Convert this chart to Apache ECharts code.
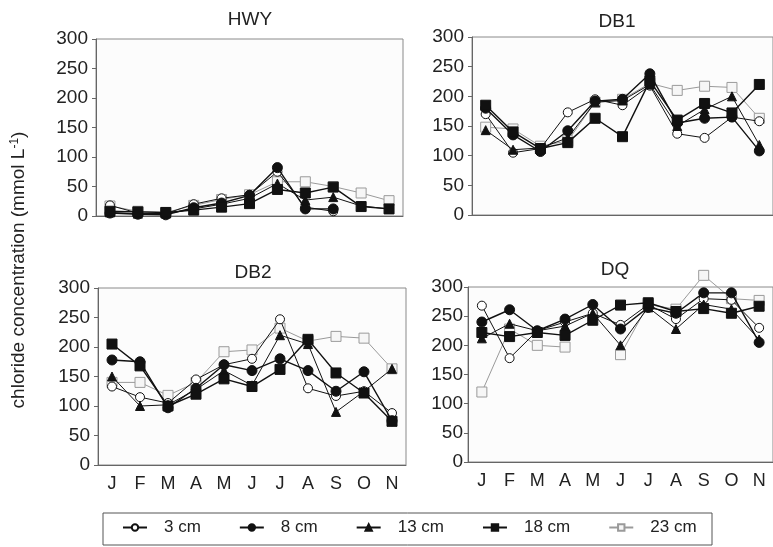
<!DOCTYPE html>
<html>
<head>
<meta charset="utf-8">
<script src="https://cdn.jsdelivr.net/npm/echarts@6/dist/echarts.min.js"></script>
<style>
  html, body { margin: 0; padding: 0; background: #fff; }
  #main { width: 773px; height: 547px; }
</style>
</head>
<body>
<div id="main"></div>
<script>
var months = ['J', 'F', 'M', 'A', 'M', 'J', 'J', 'A', 'S', 'O', 'N'];
var depths = ['3 cm', '8 cm', '13 cm', '18 cm', '23 cm'];
var yTicks = [0, 300, 50];

// HWY
var hwy3 = [18, 5, 4, 20, 30, 36, 75, 15, 8, null, null];
var hwy8 = [5, 3, 2, 14, 22, 35, 82, 12, 12, null, null];
var hwy13 = [6, 4, 4, 12, 20, 30, 55, 27, 32, 17, 12];
var hwy18 = [8, 7, 6, 10, 15, 21, 45, 39, 49, 16, 12];
var hwy23 = [17, 8, 6, 18, 28, 36, 58, 58, 50, 39, 26];

// DB1
var db1_3 = [170, 105, 112, 173, 195, 185, 218, 137, 130, 165, 158];
var db1_8 = [180, 135, 107, 142, 192, 195, 238, 155, 163, 165, 108];
var db1_13 = [143, 110, 113, 130, 190, 193, 220, 150, 178, 200, 118];
var db1_18 = [185, 140, 112, 122, 163, 132, 226, 160, 188, 172, 220];
var db1_23 = [148, 145, 116, 125, 190, 195, 222, 210, 217, 215, 163];

// DB2
var db2_3 = [133, 115, 105, 145, 170, 180, 247, 130, 117, 125, 88];
var db2_8 = [178, 175, 97, 130, 170, 160, 180, 160, 125, 158, 75];
var db2_13 = [150, 100, 102, 128, 160, 135, 220, 205, 90, 125, 163];
var db2_18 = [205, 168, 100, 120, 146, 133, 162, 213, 156, 122, 74];
var db2_23 = [140, 140, 118, 140, 192, 195, 232, 210, 218, 215, 163];

// DQ
var dq3 = [268, 178, 225, 240, 255, 235, 270, 245, 280, 278, 230];
var dq8 = [240, 261, 225, 245, 270, 228, 265, 255, 290, 290, 205];
var dq13 = [212, 237, 225, 233, 255, 200, 265, 228, 270, 262, 210];
var dq18 = [222, 215, 222, 217, 243, 269, 273, 258, 263, 255, 267];
var dq23 = [120, 228, 200, 197, null, 184, 270, 262, 320, 280, 277];

var panels = [
    { title: 'HWY', left: 96, top: 39, width: 307, height: 177, tx: 250, ty: 10, labels: false,
      data: [hwy3, hwy8, hwy13, hwy18, hwy23] },
    { title: 'DB1', left: 472, top: 37, width: 309, height: 178, tx: 617, ty: 12, labels: false,
      data: [db1_3, db1_8, db1_13, db1_18, db1_23] },
    { title: 'DB2', left: 98, top: 288, width: 308, height: 177, tx: 253, ty: 263, labels: true,
      data: [db2_3, db2_8, db2_13, db2_18, db2_23] },
    { title: 'DQ', left: 468, top: 287, width: 308, height: 175, tx: 615, ty: 260, labels: true,
      data: [dq3, dq8, dq13, dq18, dq23] }
];

// marker look per depth
var looks = [
    { symbol: 'circle', size: 9, fill: '#fff', stroke: '#111', line: '#111', lw: 1 },
    { symbol: 'circle', size: 10, fill: '#111', stroke: '#111', line: '#111', lw: 1.4 },
    { symbol: 'triangle', size: 9, fill: '#111', stroke: '#111', line: '#111', lw: 1 },
    { symbol: 'rect', size: 10, fill: '#111', stroke: '#111', line: '#111', lw: 1.4 },
    { symbol: 'rect', size: 10, fill: '#f6f6f6', stroke: '#9a9a9a', line: '#9a9a9a', lw: 1 }
];

var font = 'Liberation Sans, Arial, sans-serif';
var grid = [], xAxis = [], yAxis = [], series = [], title = [];

panels.forEach(function (p, i) {
    grid.push({
        left: p.left, top: p.top, width: p.width, height: p.height,
        show: true, borderColor: '#8a8a8a', borderWidth: 1, backgroundColor: '#fcfcfc'
    });
    title.push({
        text: p.title, left: p.tx, top: p.ty, textAlign: 'center', padding: 0,
        textStyle: { fontFamily: font, fontSize: 19, fontWeight: 'normal', color: '#222' }
    });
    xAxis.push({
        type: 'category', gridIndex: i, data: months, boundaryGap: true,
        axisLine: { lineStyle: { color: '#666' } },
        axisTick: { alignWithLabel: true, length: 5, lineStyle: { color: '#666' } },
        axisLabel: { show: p.labels, fontFamily: font, fontSize: 18, color: '#222', margin: 10, interval: 0 }
    });
    yAxis.push({
        type: 'value', gridIndex: i, min: yTicks[0], max: yTicks[1], interval: yTicks[2],
        axisLine: { show: true, lineStyle: { color: '#666' } },
        axisTick: { show: true, length: 4, lineStyle: { color: '#666' } },
        splitLine: { show: false },
        axisLabel: { fontFamily: font, fontSize: 19, color: '#222', margin: i === 3 ? 5 : 8 }
    });
    p.data.forEach(function (vals, k) {
        var lk = looks[k];
        series.push({
            name: depths[k], type: 'line', xAxisIndex: i, yAxisIndex: i,
            data: vals, clip: false,
            symbol: lk.symbol, symbolSize: lk.size, showAllSymbol: true,
            lineStyle: { color: lk.line, width: lk.lw },
            itemStyle: { color: lk.fill, borderColor: lk.stroke, borderWidth: 1 },
            z: k === 4 ? 1 : 2 + k
        });
    });
});

var chart = echarts.init(document.getElementById('main'));
chart.setOption({
    animation: false,
    backgroundColor: '#fff',
    title: title,
    grid: grid,
    xAxis: xAxis,
    yAxis: yAxis,
    legend: {
        data: depths, left: 122, top: 519, padding: 0,
        itemWidth: 24, itemHeight: 8, itemGap: 38,
        textStyle: { fontFamily: font, fontSize: 17, color: '#222', padding: [0, 0, 0, 12] }
    },
    graphic: [
        {
            type: 'rect', shape: { x: 103, y: 513, width: 609, height: 32 },
            style: { fill: 'none', stroke: '#555', lineWidth: 1 }, silent: true
        },
        {
            type: 'text', x: 19, y: 270, rotation: Math.PI / 2,
            style: {
                text: 'chloride concentration (mmol L{sup|-1})',
                fontFamily: font, fontSize: 19, fill: '#222',
                align: 'center', verticalAlign: 'middle',
                rich: { sup: { fontFamily: font, fontSize: 12, fill: '#222', padding: [0, 0, 9, 0] } }
            }
        }
    ],
    series: series
});
</script>
</body>
</html>
